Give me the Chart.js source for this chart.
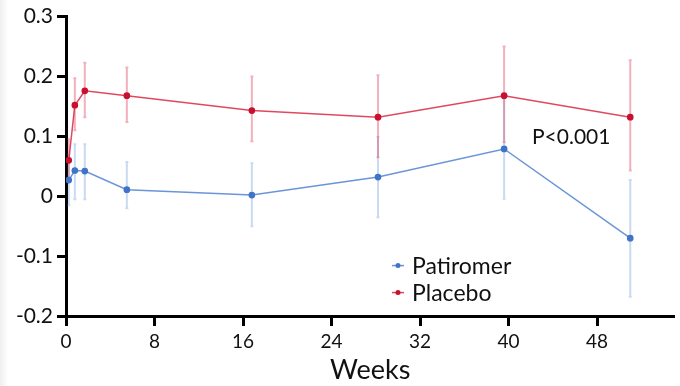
<!DOCTYPE html>
<html><head><meta charset="utf-8">
<script src="https://cdn.jsdelivr.net/npm/chart.js@4/dist/chart.umd.min.js"></script>
<style>
html,body{margin:0;padding:0;background:#fff;}
#wrap{position:relative;width:680px;height:386px;}
#edge{position:absolute;left:0;top:0;width:8px;height:386px;background:linear-gradient(to right,#efefef,#fff);}
canvas{position:absolute;left:0;top:0;}
</style></head>
<body><div id="wrap"><div id="edge"></div><canvas id="c" width="680" height="386"></canvas></div>
<script>
const weeks = [0.25, 0.8, 1.7, 5.5, 16.8, 28.2, 39.6, 51.0];
const patiromer = [0.027, 0.043, 0.042, 0.011, 0.002, 0.032, 0.079, -0.070];
const patiromerLow = [-0.015, -0.005, -0.005, -0.02, -0.050, -0.035, -0.004, -0.168];
const patiromerHigh = [0.070, 0.087, 0.087, 0.057, 0.055, 0.099, 0.163, 0.027];
const placebo = [0.060, 0.152, 0.176, 0.168, 0.143, 0.132, 0.168, 0.132];
const placeboLow = [0.025, 0.110, 0.132, 0.124, 0.092, 0.065, 0.090, 0.043];
const placeboHigh = [0.095, 0.197, 0.223, 0.215, 0.200, 0.202, 0.250, 0.227];
const xTicks = [0, 8, 16, 24, 32, 40, 48];
const yTicks = [-0.2, -0.1, 0, 0.1, 0.2, 0.3];
const seriesNames = ['Patiromer', 'Placebo'];
const pText = 'P<0.001';

const FONT = 'Lato, "Open Sans", sans-serif';
const blueLine = 'rgba(80,130,210,0.85)', blueMark = '#3f74c9', blueErr = 'rgba(90,140,215,0.32)';
const redLine = 'rgba(218,40,70,0.85)', redMark = '#c9102f', redErr = 'rgba(220,50,80,0.38)';

const errPlugin = {
  id: 'err',
  beforeDatasetsDraw(chart) {
    const ctx = chart.ctx, xs = chart.scales.x, ys = chart.scales.y;
    const sets = [[patiromerLow, patiromerHigh, blueErr], [placeboLow, placeboHigh, redErr]];
    ctx.save();
    sets.forEach(([lo, hi, col]) => {
      ctx.strokeStyle = col; ctx.lineWidth = 2;
      weeks.forEach((w, i) => {
        const x = xs.getPixelForValue(w), y1 = ys.getPixelForValue(lo[i]), y2 = ys.getPixelForValue(hi[i]);
        ctx.beginPath(); ctx.moveTo(x, y1); ctx.lineTo(x, y2);
        ctx.moveTo(x - 1.5, y1); ctx.lineTo(x + 1.5, y1);
        ctx.moveTo(x - 1.5, y2); ctx.lineTo(x + 1.5, y2);
        ctx.stroke();
      });
    });
    ctx.restore();
  },
  afterDraw(chart) {
    const ctx = chart.ctx, a = chart.chartArea;
    ctx.save();
    ctx.fillStyle = '#111';
    ctx.font = '21px ' + FONT;
    ctx.textBaseline = 'middle';
    ctx.fillText(pText, a.left + 466, a.top + 121);
    const items = [[seriesNames[0], blueLine, blueMark], [seriesNames[1], redLine, redMark]];
    ctx.font = '23px ' + FONT;
    items.forEach(([t, lc, mc], i) => {
      const y = a.top + 249 + i * 27, x = a.left + 332;
      ctx.strokeStyle = lc; ctx.lineWidth = 1.5;
      ctx.beginPath(); ctx.moveTo(x - 6, y); ctx.lineTo(x + 6, y); ctx.stroke();
      ctx.fillStyle = mc; ctx.beginPath(); ctx.arc(x, y, 2.5, 0, Math.PI * 2); ctx.fill();
      ctx.fillStyle = '#111'; ctx.fillText(t, x + 14, y + 1);
    });
    ctx.restore();
  }
};

new Chart(document.getElementById('c'), {
  type: 'line',
  data: {
    datasets: [
      { label: seriesNames[0], data: weeks.map((w, i) => ({x: w, y: patiromer[i]})),
        borderColor: blueLine, backgroundColor: blueMark, pointBackgroundColor: blueMark, pointBorderColor: blueMark,
        borderWidth: 1.5, pointRadius: 2.6, tension: 0 },
      { label: seriesNames[1], data: weeks.map((w, i) => ({x: w, y: placebo[i]})),
        borderColor: redLine, backgroundColor: redMark, pointBackgroundColor: redMark, pointBorderColor: redMark,
        borderWidth: 1.5, pointRadius: 2.6, tension: 0 }
    ]
  },
  options: {
    responsive: false, animation: false,
    layout: { padding: { top: 16, right: 0, left: 0, bottom: 0 } },
    plugins: { legend: { display: false }, tooltip: { enabled: false } },
    scales: {
      x: {
        type: 'linear', min: 0, max: 55.0,
        afterBuildTicks(s) { s.ticks = xTicks.map(v => ({value: v})); },
        afterFit(s) { s.height = 70; },
        border: { color: '#000', width: 3 },
        grid: { drawOnChartArea: false, drawTicks: true, tickLength: 10, tickWidth: 3, tickColor: '#000' },
        ticks: { color: '#111', font: { family: FONT, size: 19 }, padding: 4, maxRotation: 0,
          callback: v => String(v) },
        title: { display: true, text: 'Weeks', color: '#111', font: { family: FONT, size: 27 }, padding: { top: 2, bottom: 0 } }
      },
      y: {
        min: -0.2, max: 0.3,
        afterBuildTicks(s) { s.ticks = yTicks.map(v => ({value: v})); },
        afterFit(s) { s.width = 66; },
        border: { color: '#000', width: 3 },
        grid: { drawOnChartArea: false, drawTicks: true, tickLength: 9, tickWidth: 3, tickColor: '#000' },
        ticks: { color: '#111', font: { family: FONT, size: 21 }, padding: 4,
          callback: v => (Math.abs(v) < 1e-9 ? '0' : v.toFixed(1)) }
      }
    }
  },
  plugins: [errPlugin]
});
</script></body></html>
